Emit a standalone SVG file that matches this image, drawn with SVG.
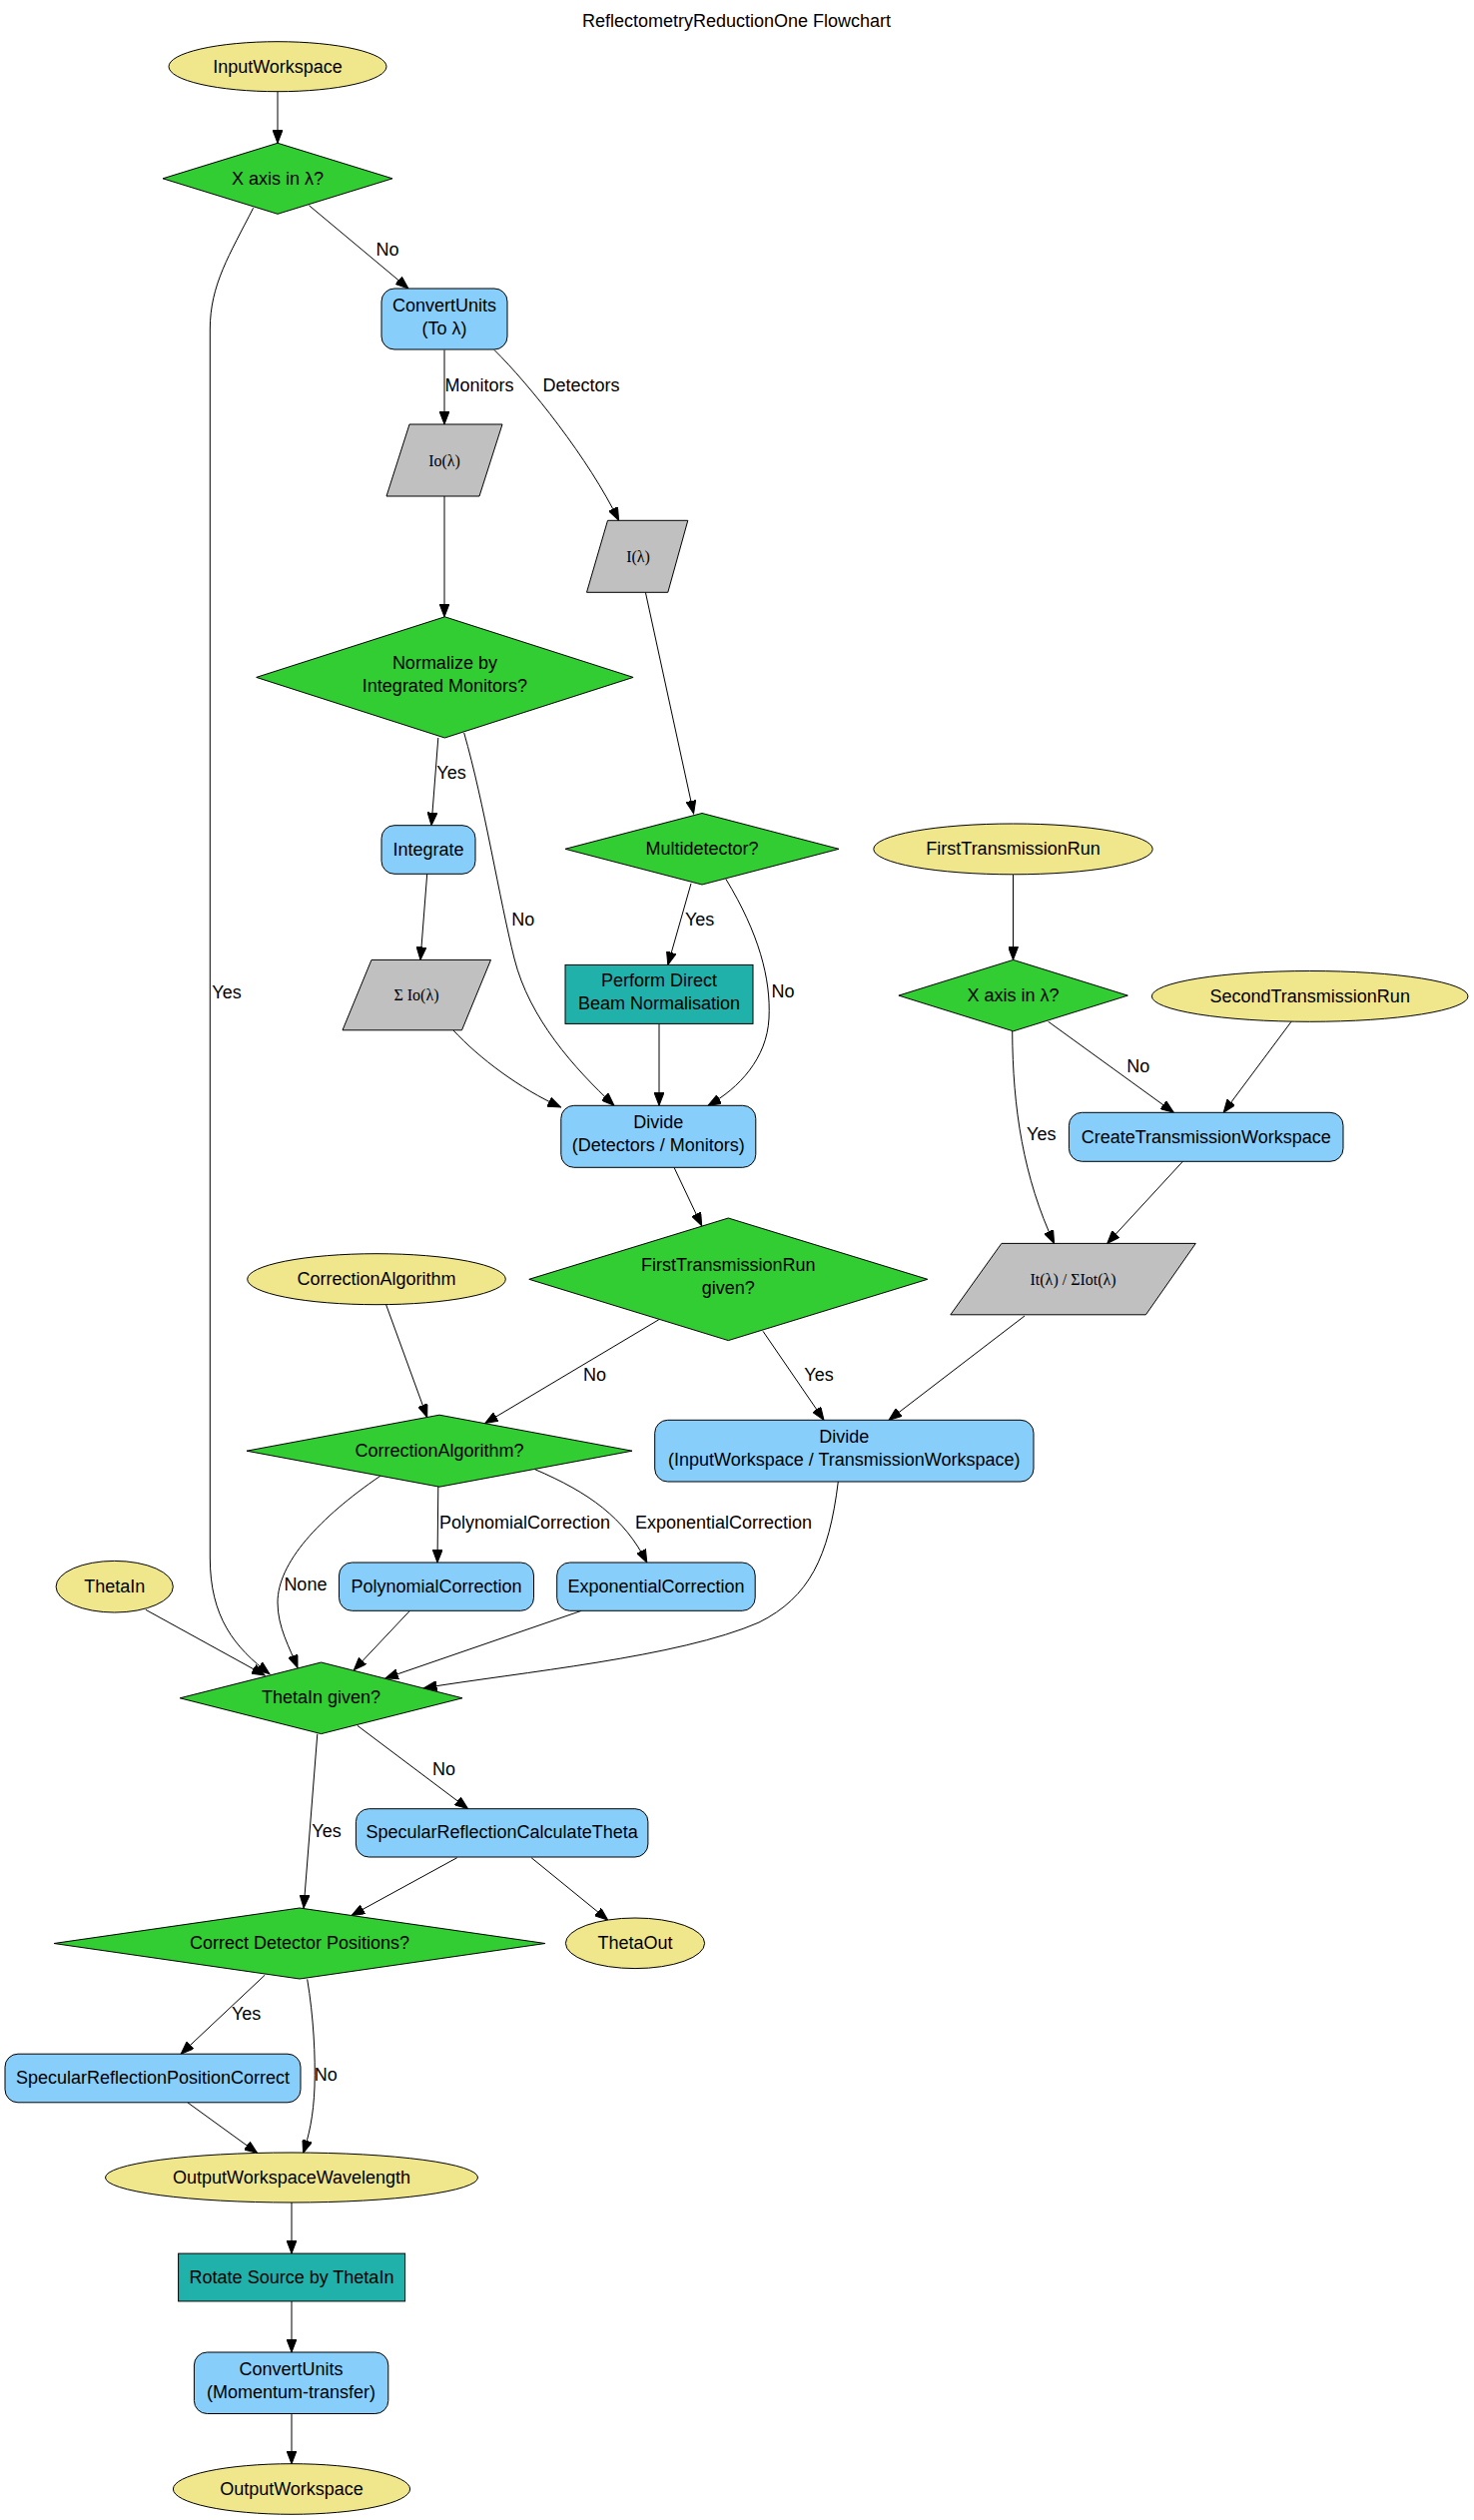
<svg xmlns="http://www.w3.org/2000/svg" width="1476" height="2524" viewBox="0 0 1476 2524">
<style>
text{font-family:"Liberation Sans",Arial,Helvetica,sans-serif;font-size:18px;fill:#000;text-anchor:middle}
.serif{font-family:"Liberation Serif","DejaVu Serif","Times New Roman",serif;font-size:16px}
.ell{fill:#f0e68c;stroke:#000;stroke-width:1}
.dec{fill:#32cd32;stroke:#000;stroke-width:1}
.alg{fill:#87cefa;stroke:#000;stroke-width:1}
.proc{fill:#20b2aa;stroke:#000;stroke-width:1}
.val{fill:#c0c0c0;stroke:#000;stroke-width:1}
#edges path{fill:none;stroke:#000;stroke-width:1;marker-end:url(#arrow)}
</style>
<defs>
<marker id="arrow" markerUnits="userSpaceOnUse" markerWidth="14" markerHeight="10" refX="13" refY="5" orient="auto"><path d="M0,0 L13,5 L0,10 z" fill="#000" stroke="#000" stroke-width="1"/></marker>
</defs>
<rect width="1476" height="2524" fill="#fff"/>
<text x="737.5" y="26.5">ReflectometryReductionOne Flowchart</text>

<g id="edges">
<path d="M278,91.7 L278,143.3"/>
<path d="M309.4,205.7 L409,289"/>
<text x="388" y="255.5">No</text>
<path d="M253.6,208.3 C230,255 210.3,285 210.3,330 L210.3,1560 C210.3,1620 235,1650 270,1676.7"/>
<text x="227" y="1000">Yes</text>
<path d="M445,350.5 L445,425"/>
<text x="480" y="391.5">Monitors</text>
<path d="M495,350.5 C530,385 590,460 619.6,521.3"/>
<text x="582" y="391.5">Detectors</text>
<path d="M445,497 L445,617.8"/>
<path d="M646.4,593.3 L694.6,814.8"/>
<path d="M438.8,739 L432,826.7"/>
<text x="452" y="779.8">Yes</text>
<path d="M464.7,734 C485,805 500,900 515,960 C530,1020 575,1070 615,1107.3"/>
<text x="523.7" y="927">No</text>
<path d="M427.7,875.3 L421,961.4"/>
<path d="M692,884.9 L668.8,966.4"/>
<text x="700.7" y="927">Yes</text>
<path d="M726.8,880.3 C760,935 772,980 770,1020 C768,1060 740,1090 709,1107.3"/>
<text x="784" y="998.5">No</text>
<path d="M454,1032 C480,1060 520,1090 561.5,1109"/>
<path d="M660,1025.4 L660,1107.3"/>
<path d="M1014.5,875.8 L1014.5,961.4"/>
<path d="M1049.6,1023.2 L1175.3,1114.3"/>
<text x="1139.8" y="1074">No</text>
<path d="M1293.1,1023.2 L1225.2,1114.3"/>
<path d="M1013.7,1032.9 C1014,1110 1025,1180 1055.6,1245.4"/>
<text x="1042.8" y="1142">Yes</text>
<path d="M1184.5,1163.2 L1108.7,1245.4"/>
<path d="M675,1169.3 L702.7,1227.8"/>
<path d="M1026,1318 L890,1422.3"/>
<path d="M764,1333.3 L825,1422.3"/>
<text x="820" y="1382.8">Yes</text>
<path d="M659.8,1321.7 L485.7,1425.5"/>
<text x="595.5" y="1382.8">No</text>
<path d="M386.6,1306.7 L427.7,1419.5"/>
<path d="M438.8,1489 L438,1565"/>
<text x="525.5" y="1530.5">PolynomialCorrection</text>
<path d="M535.7,1471.7 C590,1495 625,1520 647.8,1565"/>
<text x="724.6" y="1530.5">ExponentialCorrection</text>
<path d="M380.8,1478.3 C320,1520 278,1565 278,1605 C278,1630 290,1650 298,1670.5"/>
<text x="305.9" y="1592.8">None</text>
<path d="M839.3,1484 C830,1560 810,1600 760,1625 C680,1660 520,1675 424.4,1690.7"/>
<path d="M145.9,1612.3 L265.2,1678"/>
<path d="M410.4,1613.3 L354.3,1672.8"/>
<path d="M582.3,1613.3 L385.8,1681"/>
<path d="M357.8,1728.3 L468.6,1811.7"/>
<text x="444.4" y="1778">No</text>
<path d="M317.8,1736.7 L304.1,1911"/>
<text x="327" y="1839.5">Yes</text>
<path d="M457.7,1860.7 L352,1918.5"/>
<path d="M532.1,1860.7 L608.7,1923.1"/>
<path d="M265.3,1978.1 L181.1,2057.2"/>
<text x="246.7" y="2023">Yes</text>
<path d="M307.7,1982.4 C314,2020 316,2060 315,2090 C314,2120 309,2140 303.6,2156.5"/>
<text x="326.3" y="2084">No</text>
<path d="M187.8,2105.8 L257.7,2156.5"/>
<path d="M292,2206 L292,2257.1"/>
<path d="M292,2304.9 L292,2356"/>
<path d="M292,2417.5 L292,2467.8"/>
</g>

<g id="inputWorkspace"><ellipse class="ell" cx="278" cy="66.7" rx="109" ry="25"/><text x="278" y="72.5">InputWorkspace</text></g>
<g id="checkXUnit"><polygon class="dec" points="278,143.3 393,178.8 278,214.3 163,178.8"/><text x="278" y="184.5">X axis in λ?</text></g>
<g id="convertUnits"><rect class="alg" x="382" y="289" width="126" height="61" rx="13"/><text x="445" y="311.5">ConvertUnits</text><text x="445" y="335">(To λ)</text></g>
<g id="valMon"><polygon class="val" points="410,425 503,425 480,497 387,497"/><text class="serif" x="445" y="466.5">Io(λ)</text></g>
<g id="valDet"><polygon class="val" points="608.5,521.3 688.8,521.3 668.8,593.3 587.5,593.3"/><text class="serif" x="639" y="562.5">I(λ)</text></g>
<g id="checkNormalize"><polygon class="dec" points="445.4,617.8 634.1,678.4 445.4,739 256.7,678.4"/><text x="445.4" y="670.4">Normalize by</text><text x="445.4" y="693.4">Integrated Monitors?</text></g>
<g id="integrate"><rect class="alg" x="382" y="826.7" width="94" height="48.6" rx="13"/><text x="429" y="856.5">Integrate</text></g>
<g id="checkMulti"><polygon class="dec" points="703,814.5 840,850.3 703,886 566,850.3"/><text x="703" y="856">Multidetector?</text></g>
<g id="valIntMon"><polygon class="val" points="372,961.4 491.5,961.4 462.5,1031.8 343,1031.8"/><text class="serif" x="417" y="1002">Σ Io(λ)</text></g>
<g id="directBeam"><rect class="proc" x="566" y="966.4" width="188" height="59"/><text x="660" y="987.7">Perform Direct</text><text x="660" y="1010.7">Beam Normalisation</text></g>
<g id="firstTransRun"><ellipse class="ell" cx="1014.5" cy="850.4" rx="139.7" ry="25.4"/><text x="1014.5" y="856">FirstTransmissionRun</text></g>
<g id="checkXUnitTrans"><polygon class="dec" points="1014.6,961.4 1129.3,997.1 1014.6,1032.8 899.9,997.1"/><text x="1014.6" y="1002.5">X axis in λ?</text></g>
<g id="secondTransRun"><ellipse class="ell" cx="1311.7" cy="997.9" rx="158.3" ry="25.4"/><text x="1311.7" y="1003.5">SecondTransmissionRun</text></g>
<g id="createTrans"><rect class="alg" x="1070.4" y="1114.3" width="274.6" height="49" rx="13"/><text x="1207.7" y="1144.5">CreateTransmissionWorkspace</text></g>
<g id="divideDetMon"><rect class="alg" x="561.8" y="1107.3" width="195" height="62" rx="13"/><text x="659.3" y="1130.3">Divide</text><text x="659.3" y="1153.3">(Detectors / Monitors)</text></g>
<g id="valTrans"><polygon class="val" points="1002.9,1245.4 1197.3,1245.4 1147.4,1316.8 951.8,1316.8"/><text class="serif" x="1074.6" y="1286.5">It(λ) / ΣIot(λ)</text></g>
<g id="checkTransRun"><polygon class="dec" points="729.3,1220 928.8,1281.3 729.3,1342.6 529.8,1281.3"/><text x="729.3" y="1273.3">FirstTransmissionRun</text><text x="729.3" y="1296.3">given?</text></g>
<g id="correctionAlgorithm"><ellipse class="ell" cx="377" cy="1281.2" rx="129.3" ry="25.5"/><text x="377" y="1287">CorrectionAlgorithm</text></g>
<g id="checkCorrAlg"><polygon class="dec" points="440,1417.2 633,1453.2 440,1489.2 247,1453.2"/><text x="440" y="1459">CorrectionAlgorithm?</text></g>
<g id="divideTrans"><rect class="alg" x="655.7" y="1422.3" width="379.3" height="61.7" rx="13"/><text x="845.3" y="1445.2">Divide</text><text x="845.3" y="1468.2">(InputWorkspace / TransmissionWorkspace)</text></g>
<g id="thetaIn"><ellipse class="ell" cx="114.7" cy="1589.2" rx="58.6" ry="25.8"/><text x="114.7" y="1595">ThetaIn</text></g>
<g id="polyCorr"><rect class="alg" x="339.5" y="1565" width="195" height="48.3" rx="13"/><text x="437" y="1594.7">PolynomialCorrection</text></g>
<g id="expCorr"><rect class="alg" x="557.7" y="1565" width="198.5" height="48.3" rx="13"/><text x="657" y="1594.7">ExponentialCorrection</text></g>
<g id="checkThetaIn"><polygon class="dec" points="321.6,1665 463,1700.8 321.6,1736.6 180.2,1700.8"/><text x="321.6" y="1706">ThetaIn given?</text></g>
<g id="calcTheta"><rect class="alg" x="356.4" y="1811.7" width="292.5" height="48.3" rx="13"/><text x="502.6" y="1841">SpecularReflectionCalculateTheta</text></g>
<g id="checkCorrectDet"><polygon class="dec" points="300,1911 546,1946.5 300,1982 54,1946.5"/><text x="300" y="1952">Correct Detector Positions?</text></g>
<g id="thetaOut"><ellipse class="ell" cx="636" cy="1946.3" rx="69.6" ry="25.3"/><text x="636" y="1952">ThetaOut</text></g>
<g id="posCorrect"><rect class="alg" x="5" y="2057.2" width="296" height="48.6" rx="13"/><text x="153" y="2087">SpecularReflectionPositionCorrect</text></g>
<g id="outputWSWL"><ellipse class="ell" cx="292" cy="2181" rx="186.5" ry="25"/><text x="292" y="2186.5">OutputWorkspaceWavelength</text></g>
<g id="rotateSource"><rect class="proc" x="178.6" y="2257.1" width="227" height="47.8"/><text x="292" y="2286.5">Rotate Source by ThetaIn</text></g>
<g id="convertUnitsQ"><rect class="alg" x="194.4" y="2356" width="194.4" height="61.5" rx="13"/><text x="291.6" y="2378.8">ConvertUnits</text><text x="291.6" y="2401.8">(Momentum-transfer)</text></g>
<g id="outputWS"><ellipse class="ell" cx="292" cy="2493" rx="118.6" ry="25.3"/><text x="292" y="2498.5">OutputWorkspace</text></g>
</svg>
